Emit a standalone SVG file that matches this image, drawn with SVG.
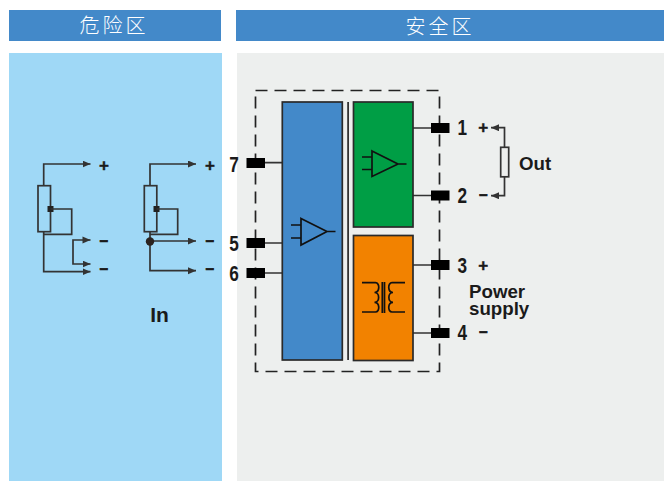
<svg xmlns="http://www.w3.org/2000/svg" width="664" height="481" viewBox="0 0 664 481">
<style>
.hd{font:300 20px "Noto Sans CJK SC",sans-serif;fill:#fff;letter-spacing:3px}
.t{font:700 18.700px "Liberation Sans",Arial,sans-serif;fill:#1a1a1a}
.n{font:700 21.500px "Liberation Sans",Arial,sans-serif;fill:#1a1a1a}
.s{font:700 17px "Liberation Sans",Arial,sans-serif;fill:#1a1a1a;stroke:#1a1a1a;stroke-width:.4}
.m{font:700 15px "Liberation Sans",Arial,sans-serif;fill:#1a1a1a;stroke:#1a1a1a;stroke-width:.7}
.w{fill:none;stroke:#333;stroke-width:1.7}
.k{fill:none;stroke:#111;stroke-width:1.7}
.b{stroke:#2a2a2a;stroke-width:1.7}
.term{fill:#000}
</style>
<defs>
<marker id="a" markerUnits="userSpaceOnUse" markerWidth="9" markerHeight="8" refX="8" refY="3.500" orient="auto"><path d="M0 0L8 3.500L0 7z" fill="#333"/></marker>
</defs>
<rect id="hdr-left" x="9" y="10" width="212" height="31" fill="#4389c9"/>
<rect id="hdr-right" x="236" y="10" width="428" height="31" fill="#4389c9"/>
<rect id="panel-left" x="9" y="53" width="213" height="428" fill="#9fd8f6"/>
<rect id="panel-right" x="237" y="53" width="427" height="428" fill="#edefee"/>
<text class="hd" x="114" y="33" text-anchor="middle">危险区</text>
<text class="hd" x="440" y="34" text-anchor="middle">安全区</text>

<rect id="boundary" x="255.500" y="90.500" width="184" height="281" fill="none" stroke="#222" stroke-width="1.700" stroke-dasharray="12 7"/>

<g id="connectors">
<path class="w" d="M265 162.700H282M265 243H282M265 273H282M413 128H431M413 195.500H431M413 265H431M413 333H431"/>
<path class="w" d="M504.500 147V127.700H491" marker-end="url(#a)"/>
<path class="w" d="M504.500 177V195.700H491" marker-end="url(#a)"/>
</g>

<g id="sensor-1">
<path class="w" d="M43.700 186V164H90.500" marker-end="url(#a)"/>
<rect class="w" x="38" y="185.700" width="12.500" height="46"/>
<rect x="47.500" y="206" width="6" height="6" fill="#222"/>
<path class="w" d="M50.500 209H71.700V234.300H43.700"/>
<path class="w" d="M43.700 232V271.700H90.500" marker-end="url(#a)"/>
<path class="w" d="M90.500 240H73V264H90.500" marker-end="url(#a)"/>
<path d="M82.500 236.500L90.500 240L82.500 243.500z" fill="#333"/>
</g>
<g id="sensor-2">
<path class="w" d="M150 186V164H196" marker-end="url(#a)"/>
<rect class="w" x="144.300" y="185.700" width="12.500" height="46"/>
<rect x="153.500" y="206" width="6" height="6" fill="#222"/>
<path class="w" d="M156.500 209H177.700V234.300H150"/>
<path class="w" d="M150 232V270.700H196" marker-end="url(#a)"/>
<path class="w" d="M150 241H196" marker-end="url(#a)"/>
<circle cx="150" cy="241.500" r="4.200" fill="#2b2320"/>
</g>
<g id="sensor-labels">
<text class="s" x="104" y="170.500" text-anchor="middle">+</text>
<text class="m" x="104" y="246" text-anchor="middle">−</text>
<text class="m" x="104" y="274.300" text-anchor="middle">−</text>
<text class="s" x="210" y="170.500" text-anchor="middle">+</text>
<text class="m" x="210" y="246" text-anchor="middle">−</text>
<text class="m" x="210" y="274.300" text-anchor="middle">−</text>
<text x="159.500" y="321.500" text-anchor="middle" font-family="Liberation Sans, Arial, sans-serif" font-weight="700" font-size="21" fill="#1a1a1a">In</text>
</g>

<g id="amp-blue">
<rect class="b" x="282.300" y="102" width="60" height="258" fill="#4389c9"/>
<path class="k" d="M301 218.500L327 231.500L301 245ZM327 231.500H335.500M291 225H301M291 238H301"/>
</g>
<rect id="divider" x="347.200" y="102" width="1.800" height="258" fill="#333"/>
<g id="amp-green">
<rect class="b" x="353.500" y="102" width="59.500" height="125" fill="#009e45"/>
<path class="k" d="M372 151L398 164L372 176.500ZM398 164H406.500M362 157H372M362 169.500H372"/>
</g>
<g id="power-orange">
<rect class="b" x="353.500" y="235.500" width="59.500" height="125" fill="#f28200"/>
<path class="k" d="M382.300 282V313M384.500 282V313"/>
<path class="k" d="M362 282.700H375.500C380 282.700 380 292.500 374.500 292.500C380 292.500 380 302.300 374.500 302.300C380 302.300 380 312 375.500 312H362"/>
<path class="k" d="M405 282.700H392C387.500 282.700 387.500 292.500 393 292.500C387.500 292.500 387.500 302.300 393 302.300C387.500 302.300 387.500 312 392 312H405"/>
</g>

<g id="term-7"><rect class="term" x="246.500" y="158" width="18.500" height="10"/><text class="n" transform="translate(234 171.500) scale(.8 1)" text-anchor="middle">7</text></g>
<g id="term-5"><rect class="term" x="246.500" y="238" width="18.500" height="10"/><text class="n" transform="translate(234 250.500) scale(.8 1)" text-anchor="middle">5</text></g>
<g id="term-6"><rect class="term" x="246.500" y="268" width="18.500" height="10"/><text class="n" transform="translate(234 281) scale(.8 1)" text-anchor="middle">6</text></g>
<g id="term-1"><rect class="term" x="431" y="123" width="18.500" height="10"/><text class="n" transform="translate(462.300 135) scale(.8 1)" text-anchor="middle">1</text></g>
<g id="term-2"><rect class="term" x="431" y="190.500" width="18.500" height="10"/><text class="n" transform="translate(462.300 203) scale(.8 1)" text-anchor="middle">2</text></g>
<g id="term-3"><rect class="term" x="431" y="260" width="18.500" height="10"/><text class="n" transform="translate(462.300 272.500) scale(.8 1)" text-anchor="middle">3</text></g>
<g id="term-4"><rect class="term" x="431" y="328" width="18.500" height="10"/><text class="n" transform="translate(462.300 340) scale(.8 1)" text-anchor="middle">4</text></g>

<g id="out">
<rect x="500.700" y="147.300" width="8" height="29.500" fill="#edefee" stroke="#333" stroke-width="1.700"/>
<text class="s" x="483.300" y="133.300" text-anchor="middle">+</text>
<text class="m" x="483.300" y="199.700" text-anchor="middle">−</text>
<text class="t" x="519" y="170">Out</text>
</g>
<g id="power">
<text class="s" x="483.300" y="270.600" text-anchor="middle">+</text>
<text class="m" x="483.300" y="336.700" text-anchor="middle">−</text>
<text class="t" x="469" y="298">Power</text>
<text class="t" x="469" y="315">supply</text>
</g>
</svg>
